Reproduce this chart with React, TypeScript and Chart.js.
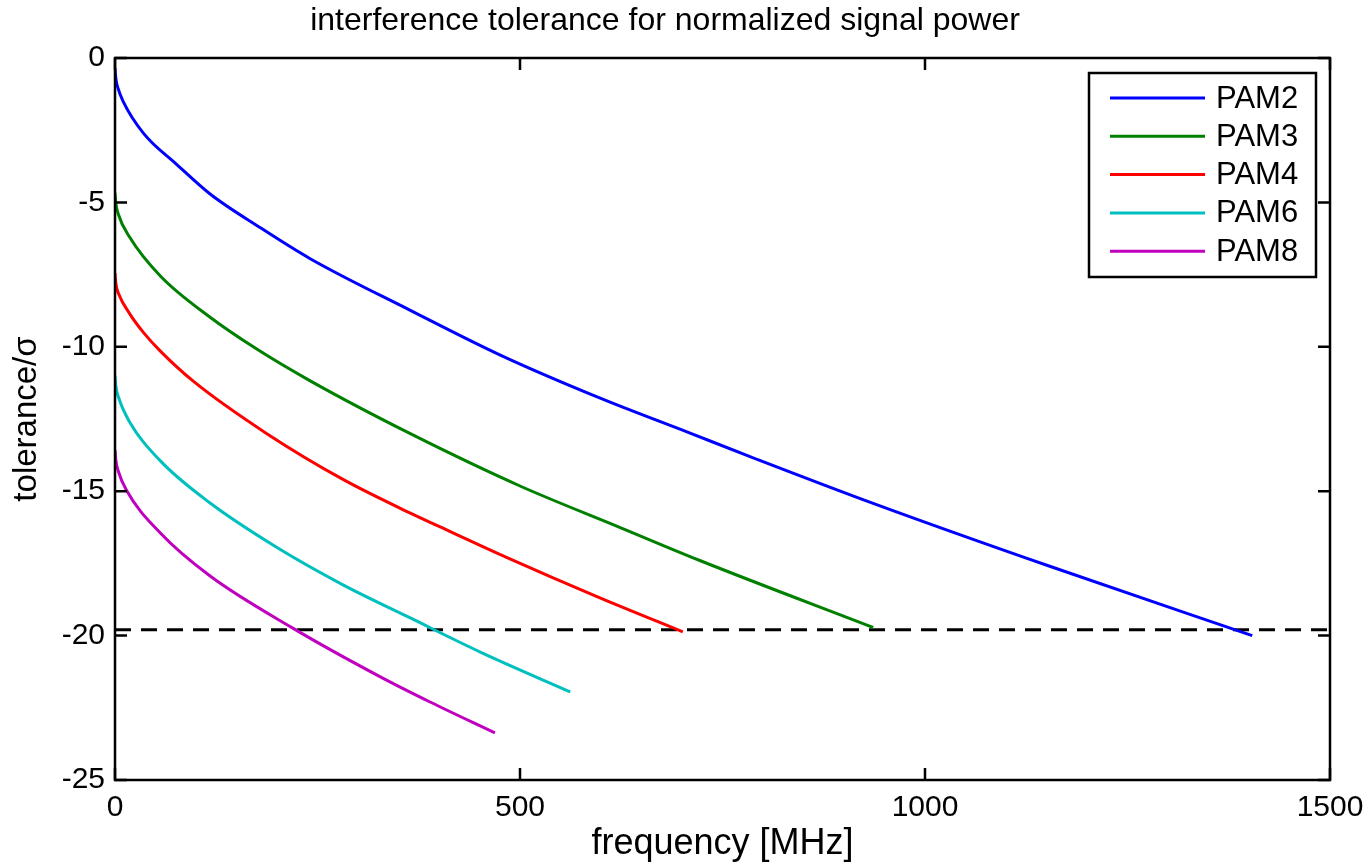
import React, { useEffect, useRef } from "react";
import { Chart, registerables } from "chart.js";

Chart.register(...registerables);

const TITLE = "interference tolerance for normalized signal power";
const X_LABEL = "frequency [MHz]";
const Y_LABEL = "tolerance/\u03c3";
const X_TICKS = [0, 500, 1000, 1500];
const Y_TICKS = [0, -5, -10, -15, -20, -25];
const THRESHOLD = -19.8;

const SERIES_LABELS = ["PAM2", "PAM3", "PAM4", "PAM6", "PAM8"];
const SERIES_COLORS = ["#0000FF", "#008000", "#FF0000", "#00BFBF", "#BF00BF"];

const PAM2_F = [0, 1, 4, 10, 35, 76, 117, 179, 241, 364, 475, 599, 710, 784, 936, 1154, 1404];
const PAM2_V = [-0.35, -0.7, -1.07, -1.5, -2.6, -3.68, -4.7, -5.87, -6.95, -8.73, -10.28, -11.78, -12.99, -13.8, -15.42, -17.6, -20.0];

const PAM3_F = [0, 1, 4, 18, 56, 117, 175, 241, 364, 500, 623, 722, 936];
const PAM3_V = [-4.67, -5.02, -5.4, -6.2, -7.55, -8.97, -10.08, -11.18, -13.0, -14.82, -16.25, -17.4, -19.72];

const PAM4_F = [0, 1, 5, 18, 35, 56, 97, 187, 282, 364, 414, 484, 595, 701];
const PAM4_V = [-7.45, -7.8, -8.2, -8.85, -9.5, -10.15, -11.2, -13.0, -14.6, -15.75, -16.4, -17.3, -18.65, -19.87];

const PAM6_F = [0, 1, 5, 18, 56, 117, 200, 282, 364, 451, 562];
const PAM6_V = [-11.0, -11.35, -11.8, -12.6, -13.95, -15.4, -16.95, -18.25, -19.38, -20.57, -21.95];

const PAM8_F = [0, 1, 4, 14, 56, 117, 220, 327, 389, 469];
const PAM8_V = [-13.57, -13.92, -14.3, -14.96, -16.45, -17.93, -19.75, -21.42, -22.3, -23.37];

const SERIES_F = [PAM2_F, PAM3_F, PAM4_F, PAM6_F, PAM8_F];
const SERIES_V = [PAM2_V, PAM3_V, PAM4_V, PAM6_V, PAM8_V];

const FONT = "'Liberation Sans', Arial, Helvetica, sans-serif";

const framePlugin = {
  id: "matlabFrame",
  afterDatasetsDraw(chart: any) {
    const { ctx, chartArea } = chart;
    const { left, right, top, bottom } = chartArea;
    const xs = chart.scales.x;
    const ys = chart.scales.y;
    const tl = 12;
    ctx.save();
    ctx.strokeStyle = "#000";
    ctx.lineWidth = 2.5;
    ctx.strokeRect(left, top, right - left, bottom - top);
    ctx.beginPath();
    X_TICKS.forEach((t) => {
      const px = xs.getPixelForValue(t);
      ctx.moveTo(px, bottom);
      ctx.lineTo(px, bottom - tl);
      ctx.moveTo(px, top);
      ctx.lineTo(px, top + tl);
    });
    Y_TICKS.forEach((t) => {
      const py = ys.getPixelForValue(t);
      ctx.moveTo(left, py);
      ctx.lineTo(left + tl, py);
      ctx.moveTo(right, py);
      ctx.lineTo(right - tl, py);
    });
    ctx.stroke();

    // legend
    const bw = 227;
    const bh = 204;
    const bx = right - 14 - bw;
    const by = top + 15;
    ctx.fillStyle = "#fff";
    ctx.fillRect(bx, by, bw, bh);
    ctx.lineWidth = 2.5;
    ctx.strokeStyle = "#000";
    ctx.strokeRect(bx, by, bw, bh);
    ctx.font = `31px ${FONT}`;
    ctx.textBaseline = "middle";
    ctx.textAlign = "left";
    SERIES_LABELS.forEach((lab, i) => {
      const ry = by + 25 + i * 38.3;
      ctx.strokeStyle = SERIES_COLORS[i];
      ctx.lineWidth = 3;
      ctx.beginPath();
      ctx.moveTo(bx + 21, ry);
      ctx.lineTo(bx + 116, ry);
      ctx.stroke();
      ctx.fillStyle = "#000";
      ctx.fillText(lab, bx + 127, ry + 1);
    });
    ctx.restore();
  },
};

export default function App() {
  const ref = useRef<HTMLCanvasElement | null>(null);
  useEffect(() => {
    document.body.style.margin = "0";
    const datasets: any[] = SERIES_LABELS.map((lab, i) => ({
      label: lab,
      data: SERIES_F[i].map((f, j) => ({ x: f, y: SERIES_V[i][j] })),
      borderColor: SERIES_COLORS[i],
      backgroundColor: SERIES_COLORS[i],
      borderWidth: 3,
      pointRadius: 0,
      cubicInterpolationMode: "monotone",
      fill: false,
    }));
    datasets.push({
      label: "threshold",
      data: [
        { x: X_TICKS[0], y: THRESHOLD },
        { x: X_TICKS[X_TICKS.length - 1], y: THRESHOLD },
      ],
      borderColor: "#000",
      borderWidth: 3,
      borderDash: [16, 10],
      pointRadius: 0,
      fill: false,
    });
    const chart = new Chart(ref.current as HTMLCanvasElement, {
      type: "line",
      data: { datasets },
      plugins: [framePlugin],
      options: {
        animation: false,
        responsive: false,
        layout: { padding: { left: 0, right: 40, top: 0, bottom: 0 } },
        plugins: {
          legend: { display: false },
          tooltip: { enabled: false },
          title: {
            display: true,
            text: TITLE,
            color: "#000",
            font: { family: FONT, size: 32, weight: "normal" },
            padding: { top: 2, bottom: 17.6 },
          },
        },
        scales: {
          x: {
            type: "linear",
            min: 0,
            max: 1500,
            afterFit: (s: any) => {
              s.height = 86;
              s.paddingLeft = 0;
              s.paddingRight = 0;
            },
            afterBuildTicks: (s: any) => {
              s.ticks = X_TICKS.map((v) => ({ value: v }));
            },
            grid: { display: false, drawTicks: false },
            border: { display: false },
            ticks: {
              color: "#000",
              padding: 10,
              maxRotation: 0,
              autoSkip: false,
              font: { family: FONT, size: 30 },
              callback: (v: any) => String(v),
            },
            title: {
              display: true,
              text: X_LABEL,
              color: "#000",
              font: { family: FONT, size: 36 },
              padding: { top: 0, bottom: 0 },
            },
          },
          y: {
            type: "linear",
            min: -25,
            max: 0,
            afterFit: (s: any) => {
              s.width = 115;
              s.paddingTop = 0;
              s.paddingBottom = 0;
            },
            afterBuildTicks: (s: any) => {
              s.ticks = Y_TICKS.map((v) => ({ value: v }));
            },
            grid: { display: false, drawTicks: false },
            border: { display: false },
            ticks: {
              color: "#000",
              padding: 10,
              autoSkip: false,
              font: { family: FONT, size: 30 },
              callback: (v: any) => String(v),
            },
            title: {
              display: true,
              text: Y_LABEL,
              color: "#000",
              font: { family: FONT, size: 33 },
              padding: { top: 7, bottom: 0 },
            },
          },
        },
      },
    });
    return () => chart.destroy();
  }, []);
  return (
    <div style={{ position: "absolute", left: 0, top: 0, width: 1370, height: 866, background: "#fff" }}>
      <canvas ref={ref} width={1370} height={866} style={{ width: 1370, height: 866 }} />
    </div>
  );
}
